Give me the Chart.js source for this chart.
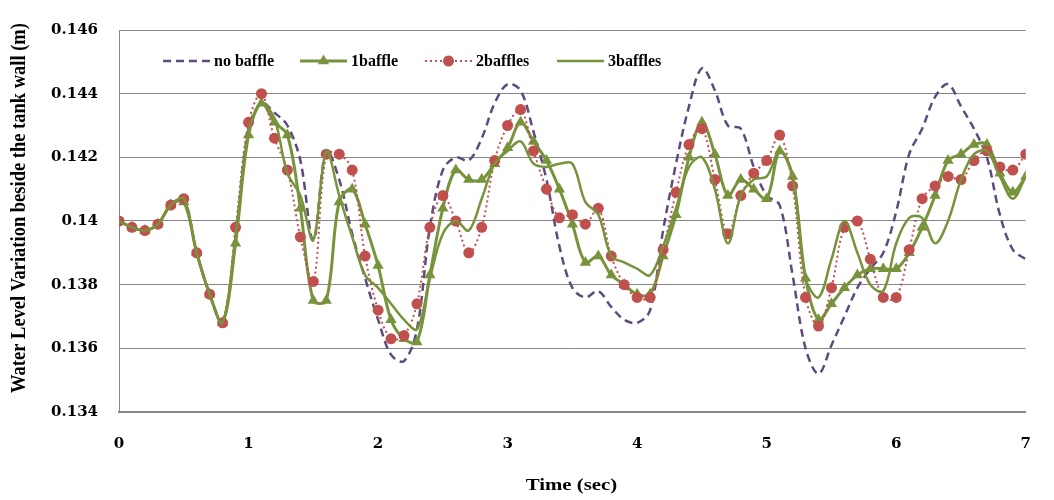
<!DOCTYPE html>
<html><head><meta charset="utf-8">
<script src="https://cdn.jsdelivr.net/npm/chart.js@4.4.0/dist/chart.umd.min.js"></script>
<style>html,body{margin:0;padding:0;background:#fff;}#wrap{width:1054px;height:500px;}</style>
</head><body><div id="wrap"><canvas id="c" width="1054" height="500"></canvas></div>
<script>
const times = [0.0,0.1,0.2,0.3,0.4,0.5,0.6,0.7,0.8,0.9,1.0,1.1,1.2,1.3,1.4,1.5,1.6,1.7,1.8,1.9,2.0,2.1,2.2,2.3,2.4,2.5,2.6,2.7,2.8,2.9,3.0,3.1,3.2,3.3,3.4,3.5,3.6,3.7,3.8,3.9,4.0,4.1,4.2,4.3,4.4,4.5,4.6,4.7,4.8,4.9,5.0,5.1,5.2,5.3,5.4,5.5,5.6,5.7,5.8,5.9,6.0,6.1,6.2,6.3,6.4,6.5,6.6,6.7,6.8,6.9,7.0];
const noBaffle = [0.1400,0.1398,0.1397,0.1399,0.1405,0.1407,0.1390,0.1377,0.1368,0.1395,0.1429,0.1437,0.1434,0.1430,0.1419,0.1394,0.1422,0.1413,0.1396,0.1382,0.1369,0.1358,0.1356,0.1366,0.1398,0.1416,0.1420,0.1419,0.1426,0.1437,0.1443,0.1441,0.1428,0.1413,0.1392,0.1379,0.1376,0.1378,0.1373,0.1369,0.1368,0.1372,0.1397,0.1418,0.1436,0.1448,0.1441,0.1430,0.1429,0.1417,0.1408,0.1405,0.1383,0.1360,0.1352,0.1361,0.1370,0.1379,0.1385,0.1390,0.1403,0.1421,0.1429,0.1439,0.1443,0.1436,0.1429,0.1420,0.1402,0.1391,0.1388];
const oneBaffle = [0.1400,0.1398,0.1397,0.1399,0.1405,0.1406,0.1390,0.1377,0.1368,0.1393,0.1427,0.1437,0.1431,0.1427,0.1404,0.1375,0.1375,0.1406,0.1410,0.1399,0.1386,0.1369,0.1363,0.1362,0.1383,0.1404,0.1416,0.1413,0.1413,0.1418,0.1423,0.1431,0.1425,0.1419,0.1410,0.1399,0.1387,0.1389,0.1383,0.1380,0.1377,0.1377,0.1389,0.1402,0.1420,0.1431,0.1421,0.1408,0.1413,0.1410,0.1407,0.1422,0.1414,0.1382,0.1369,0.1374,0.1379,0.1383,0.1385,0.1385,0.1385,0.1390,0.1398,0.1408,0.1419,0.1421,0.1424,0.1424,0.1415,0.1409,0.1414];
const twoBaffles = [0.1400,0.1398,0.1397,0.1399,0.1405,0.1407,0.1390,0.1377,0.1368,0.1398,0.1431,0.1440,0.1426,0.1416,0.1395,0.1381,0.1421,0.1421,0.1416,0.1389,0.1372,0.1363,0.1364,0.1374,0.1398,0.1408,0.1400,0.1390,0.1398,0.1419,0.1430,0.1435,0.1422,0.1410,0.1401,0.1402,0.1399,0.1404,0.1389,0.1380,0.1376,0.1376,0.1391,0.1409,0.1424,0.1429,0.1413,0.1396,0.1408,0.1415,0.1419,0.1427,0.1411,0.1376,0.1367,0.1379,0.1398,0.1400,0.1388,0.1376,0.1376,0.1391,0.1407,0.1411,0.1414,0.1413,0.1419,0.1422,0.1417,0.1416,0.1421];
const threeBaffles = [0.1400,0.1398,0.1397,0.1399,0.1405,0.1407,0.1390,0.1377,0.1368,0.1395,0.1428,0.1437,0.1432,0.1415,0.1408,0.1394,0.1422,0.1408,0.1395,0.1383,0.1379,0.1374,0.1369,0.1366,0.1382,0.1396,0.1400,0.1397,0.1407,0.1418,0.1422,0.1425,0.1418,0.1417,0.1418,0.1418,0.1406,0.1402,0.1389,0.1387,0.1385,0.1383,0.1392,0.1404,0.1417,0.1420,0.1410,0.1393,0.1408,0.1413,0.1414,0.1422,0.1414,0.1382,0.1376,0.1388,0.1400,0.1390,0.1380,0.1378,0.1393,0.1401,0.1401,0.1393,0.1400,0.1413,0.1421,0.1422,0.1414,0.1407,0.1414];
const seriesNames = ['no baffle','1baffle','2baffles','3baffles'];
const yTickLabels = ['0.134','0.136','0.138','0.14','0.142','0.144','0.146'];
const xTickLabels = ['0','1','2','3','4','5','6','7'];
const xTitle = 'Time (sec)';
const yTitle = 'Water Level Variation beside the tank wall (m)';

const PURPLE = '#5F4A7E', GREEN = '#77933C', RED = '#C0504D';
const pts = arr => times.map((t, i) => ({x: t, y: arr[i]}));
const styles = [
  {color: PURPLE, width: 2.5, dash: [8, 5], marker: null},
  {color: GREEN, width: 3, dash: [], marker: 'triangle'},
  {color: RED, width: 2, dash: [2, 3], marker: 'circle'},
  {color: GREEN, width: 2.5, dash: [], marker: null}
];
const values = [noBaffle, oneBaffle, twoBaffles, threeBaffles];

const datasets = values.map((v, i) => ({
  label: seriesNames[i],
  data: pts(v),
  borderColor: styles[i].color,
  backgroundColor: styles[i].color,
  borderWidth: styles[i].width,
  borderDash: styles[i].dash,
  pointStyle: styles[i].marker || 'circle',
  pointRadius: styles[i].marker === 'triangle' ? 6.5 : (styles[i].marker === 'circle' ? 5.5 : 0),
  pointBorderWidth: 0,
  pointHoverRadius: 0,
  tension: 0.35,
  fill: false,
  order: 4 - i
}));

function drawMarker(ctx, type, x, y, color) {
  ctx.save();
  ctx.fillStyle = color;
  ctx.setLineDash([]);
  ctx.beginPath();
  if (type === 'triangle') {
    const r = 6.5;
    ctx.moveTo(x, y - r);
    ctx.lineTo(x + r * Math.cos(Math.PI / 6), y + r * 0.5);
    ctx.lineTo(x - r * Math.cos(Math.PI / 6), y + r * 0.5);
    ctx.closePath();
  } else {
    ctx.arc(x, y, 5.5, 0, Math.PI * 2);
  }
  ctx.fill();
  ctx.restore();
}

const decor = {
  id: 'decor',
  afterDraw(chart) {
    const {ctx, chartArea: a} = chart;
    ctx.save();
    const starts = [44, 181, 306, 438];
    const ly = a.top + 31;
    seriesNames.forEach((name, i) => {
      const x0 = a.left + starts[i];
      const s = styles[i];
      ctx.save();
      ctx.strokeStyle = s.color;
      ctx.lineWidth = s.width;
      ctx.setLineDash(s.dash);
      ctx.beginPath();
      ctx.moveTo(x0, ly); ctx.lineTo(x0 + 47, ly);
      ctx.stroke();
      ctx.restore();
      if (s.marker) drawMarker(ctx, s.marker, x0 + 23.5, ly, s.color);
      ctx.save();
      ctx.fillStyle = '#000';
      ctx.font = 'bold 16px "Liberation Serif"';
      ctx.textBaseline = 'middle';
      ctx.textAlign = 'left';
      ctx.fillText(name, x0 + 51, ly + 1);
      ctx.restore();
    });
    ctx.save();
    ctx.fillStyle = '#000';
    ctx.font = 'bold 16px "Liberation Serif"';
    ctx.textAlign = 'center';
    ctx.textBaseline = 'middle';
    ctx.translate((a.left + a.right) / 2 - 1, 486);
    ctx.scale(1.3, 1);
    ctx.fillText(xTitle, 0, 0);
    ctx.restore();
    ctx.save();
    ctx.fillStyle = '#000';
    ctx.font = 'bold 18.5px "Liberation Serif"';
    ctx.textAlign = 'center';
    ctx.textBaseline = 'middle';
    ctx.translate(20, 208);
    ctx.scale(1.1, 1);
    ctx.rotate(-Math.PI / 2);
    ctx.fillText(yTitle, 0, 0);
    ctx.restore();
    ctx.restore();
  }
};

new Chart(document.getElementById('c'), {
  type: 'line',
  data: {datasets},
  options: {
    responsive: false,
    animation: false,
    events: [],
    layout: {padding: {left: 0, top: 14, right: 4, bottom: 0}},
    plugins: {legend: {display: false}, tooltip: {enabled: false}, title: {display: false}},
    scales: {
      x: {
        type: 'linear', min: 0, max: 7,
        afterFit: s => { s.height = 88; },
        grid: {display: false, drawTicks: false},
        border: {display: true, color: '#868686', width: 2},
        ticks: {stepSize: 1, padding: 23, color: '#000', maxRotation: 0,
          font: {family: '"DejaVu Serif"', weight: 'bold', size: 15},
          callback: (v, i) => xTickLabels[i]}
      },
      y: {
        min: 0.134, max: 0.146,
        afterFit: s => { s.width = 119; },
        grid: {color: '#868686', lineWidth: 1, drawTicks: false},
        border: {display: true, color: '#868686', width: 1},
        ticks: {stepSize: 0.002, padding: 21, color: '#000',
          font: {family: '"DejaVu Serif"', weight: 'bold', size: 15},
          callback: (v, i) => yTickLabels[i]}
      }
    }
  },
  plugins: [decor]
});
</script>
</body></html>
